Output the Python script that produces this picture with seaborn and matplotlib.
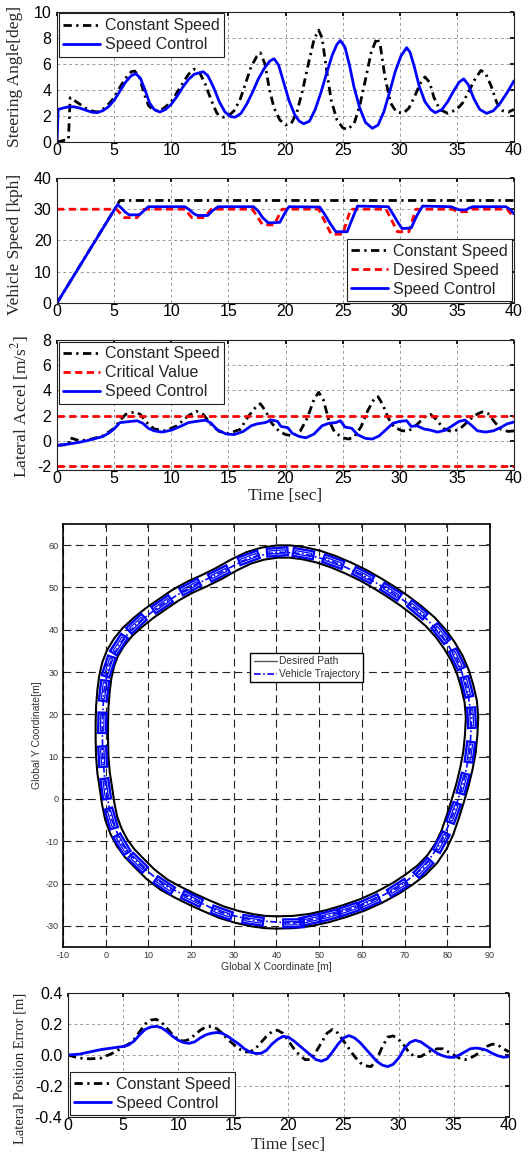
import numpy as np
import matplotlib
matplotlib.use('Agg')
import matplotlib.pyplot as plt
from matplotlib.patches import Rectangle
from matplotlib.lines import Line2D
import seaborn as sns

# ---- steering angle [deg] ----
steer_t_const = [0, 1.0, 1.15, 1.5, 2.0, 2.5, 3.0, 3.5, 4.0, 4.5, 5.0, 5.5, 6.0, 6.5, 6.8, 7.2, 7.6, 8.0, 8.5, 9.0,
                 9.5, 10.0, 10.5, 11.0, 11.5, 12.0, 12.5, 13.0, 13.5, 14.0, 14.5, 15.0, 15.5, 16.0, 16.5, 17.0, 17.5,
                 17.8, 18.2, 18.6, 19.0, 19.5, 20.0, 20.5, 21.0, 21.5, 22.0, 22.5, 22.9, 23.2, 23.6, 24.0, 24.5, 25.0,
                 25.4, 26.0, 26.5, 27.0, 27.5, 28.0, 28.3, 28.7, 29.2, 29.7, 30.3, 30.8, 31.3, 31.8, 32.2, 32.6, 33.0,
                 33.5, 34.2, 35.0, 35.5, 36.0, 36.5, 37.1, 37.5, 38.0, 38.5, 39.0, 39.5, 40.0]
steer_const = [0, 0.2, 3.4, 3.2, 2.9, 2.6, 2.4, 2.3, 2.5, 2.9, 3.4, 4.2, 4.9, 5.4, 5.45, 5.0, 3.8, 2.8, 2.4, 2.4,
               2.7, 3.1, 3.8, 4.5, 5.2, 5.6, 5.3, 4.4, 3.2, 2.2, 1.9, 2.0, 2.4, 3.2, 4.5, 5.8, 6.6, 6.85, 6.0, 4.0,
               2.6, 1.7, 1.3, 1.4, 2.3, 4.0, 6.0, 7.9, 8.6, 8.0, 5.5, 3.2, 1.7, 1.1, 0.95, 1.4, 2.8, 4.8, 6.9, 8.0,
               7.4, 5.0, 3.0, 2.3, 2.2, 2.6, 3.5, 4.5, 5.0, 4.6, 3.4, 2.5, 2.2, 2.5, 3.0, 3.8, 4.7, 5.5, 5.3, 4.3,
               3.0, 2.4, 2.3, 2.5]
steer_t_ctrl = [0, 0.1, 0.5, 1.0, 1.5, 2.0, 2.5, 3.0, 3.5, 4.0, 4.5, 5.0, 5.5, 6.0, 6.5, 6.9, 7.3, 7.7, 8.1, 8.5,
                9.0, 9.5, 10.0, 10.5, 11.0, 11.5, 12.0, 12.8, 13.2, 13.7, 14.2, 14.7, 15.2, 15.6, 16.1, 16.6, 17.1,
                17.6, 18.1, 18.6, 19.0, 19.4, 19.8, 20.3, 20.8, 21.2, 21.6, 22.1, 22.6, 23.1, 23.6, 24.1, 24.5, 24.8,
                25.2, 25.6, 26.0, 26.5, 27.0, 27.6, 28.1, 28.6, 29.1, 29.6, 30.1, 30.6, 30.9, 31.3, 31.7, 32.2, 32.7,
                33.1, 33.7, 34.2, 34.7, 35.2, 35.6, 36.0, 36.5, 37.0, 37.6, 38.2, 38.8, 39.4, 40.0]
steer_ctrl = [0, 2.5, 2.6, 2.7, 2.7, 2.6, 2.45, 2.3, 2.25, 2.4, 2.7, 3.2, 3.9, 4.6, 5.1, 5.25, 4.9, 4.0, 3.0, 2.5,
              2.3, 2.5, 2.9, 3.5, 4.2, 4.8, 5.2, 5.4, 5.1, 4.2, 3.1, 2.3, 1.95, 1.9, 2.2, 2.9, 3.8, 4.8, 5.6, 6.2,
              6.4, 5.9, 4.7, 3.2, 2.1, 1.6, 1.4, 1.6, 2.5, 3.8, 5.3, 6.7, 7.5, 7.8, 7.3, 5.9, 4.2, 2.6, 1.5, 1.05,
              1.3, 2.3, 3.8, 5.4, 6.6, 7.25, 6.9, 5.7, 4.3, 3.1, 2.5, 2.25, 2.5, 3.1, 3.9, 4.6, 4.85, 4.4, 3.3, 2.5,
              2.2, 2.4, 3.0, 3.8, 4.7]

# ---- vehicle speed [kph] ----
speed_t_const = [0, 5.5, 40]
speed_const = [0, 32.8, 32.8]
speed_t_des = [0, 5.2, 5.9, 7.0, 7.6, 11.2, 11.8, 12.9, 13.5, 17.1, 18.0, 19.0, 19.7, 22.9, 24.0, 25.0, 25.7,
               28.8, 29.8, 30.8, 31.4, 34.6, 35.1, 35.9, 36.3, 39.4, 40]
speed_des = [30, 30, 27.3, 27.3, 30, 30, 27.3, 27.3, 30, 30, 25.0, 25.0, 30, 30, 22.0, 22.0, 30,
             30, 22.8, 22.8, 30, 30, 29.2, 29.2, 30, 30, 27.3]
speed_t_ctrl = [0, 5.3, 5.6, 6.0, 6.3, 7.2, 7.6, 8.0, 11.2, 11.6, 12.0, 12.3, 13.2, 13.6, 14.1, 17.2, 17.6, 18.0,
                18.5, 19.5, 19.9, 20.3, 23.0, 23.4, 23.9, 24.4, 25.4, 25.8, 26.3, 29.0, 29.4, 29.8, 30.2, 31.0,
                31.5, 32.0, 34.5, 34.9, 35.2, 35.8, 36.1, 36.4, 39.3, 39.7, 40]
speed_ctrl = [0, 31.5, 30.5, 29.0, 28.2, 28.2, 29.5, 30.8, 30.8, 29.8, 28.5, 28.0, 28.0, 29.5, 30.8, 30.8, 29.5, 27.3,
              25.6, 25.8, 28.5, 30.8, 30.7, 28.5, 25.5, 22.8, 22.8, 26.5, 31.0, 30.8, 28.5, 26.0, 23.8, 24.0,
              28.0, 31.0, 30.8, 30.2, 29.8, 29.8, 30.4, 30.8, 30.8, 29.8, 28.5]

# ---- lateral acceleration [m/s^2] ----
critical_accel = 2.0
acc_t_const = [0, 1.0, 1.1, 1.5, 2, 3, 4, 5, 5.5, 6, 6.8, 7.3, 7.8, 8.5, 9.5, 10.5, 11.5, 12.2, 12.8, 13.5,
               14.2, 15, 16, 16.8, 17.5, 17.8, 18.3, 18.8, 19.4, 20, 20.7, 21.3, 21.9, 22.5, 22.9, 23.3, 23.8, 24.3,
               25, 25.5, 26, 26.6, 27.2, 27.8, 28.1, 28.5, 29, 29.5, 30.2, 30.8, 31.5, 32.2, 32.7, 33.2, 33.8, 34.5,
               35.2, 35.8, 36.5, 37.2, 37.7, 38.3, 38.9, 39.5, 40]
acc_const = [-0.35, -0.3, 0.25, 0.15, 0.0, 0.15, 0.4, 1.0, 1.6, 2.1, 2.3, 2.1, 1.5, 0.95, 0.8, 1.2, 2.0, 2.35, 2.1, 1.3,
             0.75, 0.6, 0.9, 2.0, 2.8, 2.95, 2.3, 1.4, 0.8, 0.5, 0.4, 0.8, 1.8, 3.3, 3.85, 3.3, 1.6, 0.7,
             0.25, 0.15, 0.3, 1.1, 2.4, 3.4, 3.5, 2.9, 1.8, 1.1, 0.8, 0.8, 1.3, 1.9, 2.1, 1.7, 1.0, 0.75,
             0.9, 1.4, 2.0, 2.3, 2.2, 1.5, 0.9, 0.75, 0.8]
acc_t_ctrl = [0, 1, 2, 3, 4, 4.5, 5, 5.5, 6, 6.5, 7, 7.5, 8, 8.5, 9.2, 10, 10.8, 11.5, 12.2, 13, 13.5, 14, 14.8,
              15.5, 16.3, 17, 17.5, 18.2, 18.8, 19.3, 19.6, 20.2, 20.6, 21.2, 21.8, 22.5, 23.2, 23.8, 24.4, 24.8,
              25.2, 25.8, 26.3, 27, 27.6, 28.2, 28.8, 29.4, 30, 30.6, 31, 31.5, 32.1, 32.7, 33.3, 34, 34.6, 35.2,
              35.7, 36.2, 36.8, 37.5, 38.2, 38.8, 39.4, 40]
acc_ctrl = [-0.35, -0.25, -0.1, 0.1, 0.35, 0.6, 0.95, 1.45, 1.5, 1.55, 1.6, 1.4, 1.0, 0.8, 0.7, 0.85, 1.15, 1.45,
            1.55, 1.65, 1.4, 0.9, 0.55, 0.5, 0.75, 1.2, 1.35, 1.45, 1.65, 1.55, 1.15, 1.05, 0.6, 0.35, 0.25, 0.55,
            1.2, 1.4, 1.45, 1.6, 1.1, 1.0, 0.5, 0.2, 0.15, 0.4, 0.9, 1.4, 1.55, 1.6, 1.15, 1.2, 0.95, 0.85, 0.7,
            0.85, 1.2, 1.55, 1.65, 1.3, 0.8, 0.7, 0.8, 1.05, 1.35, 1.5]

# ---- desired path centre line and vehicle positions [m] ----
path_x = [40, 44, 48, 52, 56, 60, 64, 68, 71, 74, 76.5, 78.5, 80, 81.3, 82.5, 83.6, 84.5, 85.2, 85.6, 85.8,
          85.5, 84.7, 83.7, 82.3, 80.5, 78.5, 76.0, 73.0, 70.0, 66.8, 63.6, 60.3, 56.8, 53.3, 49.8, 46.3, 43.2,
          40.2, 36.8, 33.5, 30.0, 26.5, 23.1, 19.8, 16.4, 13.2, 10.2, 7.5, 5.1, 3.1, 1.6, 0.6, -0.1, -0.5, -0.8,
          -0.9, -0.9, -0.8, -0.5, 0.1, 0.6, 1.3, 2.4, 3.8, 5.6, 7.7, 10.5, 13.7, 17.0, 20.2, 23.7, 27.2, 30.8,
          34.5, 37.3]
path_y = [-29.2, -29.1, -28.6, -27.7, -26.5, -25.1, -23.3, -21.1, -19.1, -16.8, -14.2, -11.2, -8.0, -4.2, -0.3,
          3.5, 7.3, 11.1, 15.2, 19.3, 23.0, 26.5, 29.9, 33.2, 36.3, 39.1, 41.9, 44.5, 46.8, 49.0, 51.0, 52.9,
          54.6, 56.1, 57.3, 58.1, 58.5, 58.5, 58.0, 57.0, 55.3, 53.3, 51.6, 50.1, 48.2, 46.0, 43.9, 41.7, 39.5,
          37.0, 34.5, 31.9, 28.8, 25.6, 21.8, 18.0, 14.0, 10.0, 6.2, 2.3, -1.2, -4.6, -7.6, -10.3, -12.8, -15.0,
          -17.8, -20.3, -22.1, -23.7, -25.3, -26.8, -27.9, -28.7, -29.1]
road_half_width = 1.45
veh_x = [44.0, 47.9, 52.5, 56.8, 61.8, 68.4, 74.4, 78.6, 81.5, 83.7, 85.3, 85.7, 84.6, 82.3, 78.5, 73.0, 66.8,
         60.3, 53.3, 46.3, 40.2, 33.5, 26.5, 19.8, 13.2, 7.2, 3.1, 0.7, -0.4, -0.8, -0.7, 0.0, 1.3, 3.8, 7.5,
         13.7, 20.2, 27.2, 34.5]
veh_y = [-29.4, -28.6, -27.5, -26.2, -24.4, -21.0, -16.3, -10.2, -3.3, 3.6, 11.1, 19.2, 26.5, 33.0, 39.1, 44.7,
         49.0, 52.9, 56.1, 58.0, 58.4, 57.0, 53.3, 50.1, 46.0, 41.4, 36.5, 31.3, 25.6, 18.0, 10.0, 2.4, -4.6,
         -10.7, -15.1, -20.4, -23.6, -26.9, -28.7]
veh_length, veh_width = 4.8, 1.85

# ---- lateral position error [m] ----
err_t = [0, 1, 2, 3, 4, 5] + [5.5 + 0.5 * i for i in range(70)]
err_const = [0.0, -0.02, -0.025, -0.02, 0.01, 0.05,
             0.07, 0.1, 0.15, 0.2, 0.225, 0.23, 0.21, 0.17, 0.13, 0.1,
             0.09, 0.1, 0.13, 0.16, 0.18, 0.185, 0.17, 0.14, 0.1, 0.07,
             0.04, 0.02, 0.02, 0.04, 0.08, 0.12, 0.15, 0.16, 0.14, 0.09,
             0.04, 0.0, -0.03, -0.03, 0.02, 0.08, 0.14, 0.165, 0.14, 0.09,
             0.04, -0.01, -0.05, -0.07, -0.075, -0.03, 0.05, 0.115, 0.123, 0.1,
             0.06, 0.01, -0.01, -0.01, 0.01, 0.03, 0.04, 0.04, 0.02, 0.0,
             -0.02, -0.03, -0.02, 0.0, 0.03, 0.055, 0.07, 0.065, 0.04, 0.02]
err_ctrl = [0.0, 0.005, 0.02, 0.035, 0.045, 0.055,
            0.065, 0.09, 0.13, 0.165, 0.18, 0.185, 0.175, 0.15, 0.12, 0.095,
            0.08, 0.075, 0.085, 0.11, 0.13, 0.14, 0.145, 0.14, 0.12, 0.095,
            0.07, 0.04, 0.02, 0.01, 0.01, 0.03, 0.07, 0.1, 0.12, 0.115,
            0.09, 0.06, 0.03, 0.0, -0.03, -0.04, -0.025, 0.02, 0.07, 0.11,
            0.125, 0.11, 0.08, 0.04, 0.0, -0.04, -0.065, -0.075, -0.06, -0.02,
            0.04, 0.08, 0.095, 0.085, 0.06, 0.035, 0.01, -0.005, -0.015, -0.015,
            0.0, 0.02, 0.04, 0.045, 0.04, 0.03, 0.01, -0.005, -0.015, -0.01]

sns.set_theme(style='white')
plt.rcParams['font.family'] = ['Liberation Sans', 'DejaVu Sans']
plt.rcParams['mathtext.fontset'] = 'stix'
plt.rcParams['axes.unicode_minus'] = False
SERIF = ['Liberation Serif', 'DejaVu Serif']

BLUE = '#0000ff'
RED = '#ff0000'
DASHDOT = (0, (3, 1.6, 0.8, 1.6))
DASHED = (0, (2.6, 1.6))


def line(ax, x, y, **kw):
    sns.lineplot(x=x, y=y, ax=ax, sort=False, estimator=None, legend=False, **kw)


def style_time_axis(ax, ylim, yticks, ylabel, ylab_x, ylab_y=0.5, ylab_size=12.5):
    ax.set_xlim(0, 40)
    ax.set_ylim(*ylim)
    ax.set_xticks(range(0, 41, 5))
    ax.set_yticks(yticks)
    ax.grid(True, color='#9a9a9a', linestyle=(0, (3, 3)), lw=0.7)
    ax.set_axisbelow(True)
    ax.tick_params(direction='in', length=3, top=True, right=True, labelsize=11.5,
                   colors='black', pad=4)
    ax.tick_params(axis='x', pad=1)
    for s in ax.spines.values():
        s.set_color('#222222')
        s.set_linewidth(0.8)
    ax.set_ylabel(ylabel, family=SERIF, fontsize=ylab_size, va='center')
    ax.yaxis.set_label_coords(ylab_x, ylab_y)


def time_legend(ax, loc):
    leg = ax.legend(loc=loc, borderaxespad=0.1, fontsize=11.5, frameon=True, fancybox=False,
                    edgecolor='#222222', framealpha=1, handlelength=2.3, handletextpad=0.3,
                    labelspacing=0.25, borderpad=0.3)
    leg.get_frame().set_linewidth(0.8)


fig = plt.figure(figsize=(5.28, 11.55), dpi=100)

# steering angle
ax1 = fig.add_axes([0.108, 0.8771, 0.8655, 0.1126])
line(ax1, steer_t_const, steer_const, color='black', lw=2, linestyle=DASHDOT, label='Constant Speed')
line(ax1, steer_t_ctrl, steer_ctrl, color=BLUE, lw=2, label='Speed Control')
style_time_axis(ax1, (0, 10), range(0, 11, 2), 'Steering Angle[deg]', -0.092)
time_legend(ax1, 'upper left')

# vehicle speed
ax2 = fig.add_axes([0.108, 0.7377, 0.8655, 0.1082])
line(ax2, speed_t_const, speed_const, color='black', lw=2, linestyle=DASHDOT, label='Constant Speed')
line(ax2, speed_t_des, speed_des, color=RED, lw=2, linestyle=DASHED, label='Desired Speed')
line(ax2, speed_t_ctrl, speed_ctrl, color=BLUE, lw=2, label='Speed Control')
style_time_axis(ax2, (0, 40), range(0, 41, 10), 'Vehicle Speed [kph]', -0.092, 0.47)
time_legend(ax2, 'lower right')

# lateral acceleration
ax3 = fig.add_axes([0.108, 0.5931, 0.8655, 0.1126])
line(ax3, acc_t_const, acc_const, color='black', lw=2, linestyle=DASHDOT, label='Constant Speed')
ax3.axhline(critical_accel, color=RED, lw=2, linestyle=DASHED, label='Critical Value')
ax3.axhline(-critical_accel, color=RED, lw=2, linestyle=DASHED)
line(ax3, acc_t_ctrl, acc_ctrl, color=BLUE, lw=2, label='Speed Control')
style_time_axis(ax3, (-2.3, 8), range(-2, 9, 2), 'Lateral Accel [m/s$^2$]', -0.08, 0.49)
time_legend(ax3, 'upper left')
ax3.set_xlabel('Time [sec]', family=SERIF, fontsize=12.5, va='top')
ax3.xaxis.set_label_coords(0.5, -0.14)

# global trajectory
ax4 = fig.add_axes([0.1193, 0.1801, 0.8087, 0.3662])
px = np.array(path_x + path_x[:1])
py = np.array(path_y + path_y[:1])
dx = np.roll(px[:-1], -1) - np.roll(px[:-1], 1)
dy = np.roll(py[:-1], -1) - np.roll(py[:-1], 1)
norm = np.hypot(dx, dy)
nx, ny = dy / norm, -dx / norm
nx, ny = np.append(nx, nx[0]), np.append(ny, ny[0])
line(ax4, px + road_half_width * nx, py + road_half_width * ny, color='black', lw=1.5)
line(ax4, px - road_half_width * nx, py - road_half_width * ny, color='black', lw=1.5)
vx = np.array(veh_x)
vy = np.array(veh_y)
line(ax4, np.append(vx, vx[0]), np.append(vy, vy[0]), color=BLUE, lw=1.2, linestyle=(0, (4, 1.5, 1, 1.5)))
heading = np.degrees(np.arctan2(np.roll(vy, -1) - np.roll(vy, 1), np.roll(vx, -1) - np.roll(vx, 1)))
for cx, cy, ang in zip(vx, vy, heading):
    ax4.add_patch(Rectangle((cx - veh_length / 2, cy - veh_width / 2), veh_length, veh_width, angle=ang,
                            rotation_point='center', fill=False, ec=BLUE, lw=1.7, zorder=4))
    ax4.add_patch(Rectangle((cx - 1.9, cy - 0.38), 3.8, 0.76, angle=ang,
                            rotation_point='center', fill=False, ec=BLUE, lw=0.9, zorder=4))
ax4.set_xlim(-10, 90)
ax4.set_ylim(-35, 65)
ax4.set_xticks(range(-10, 91, 10))
ax4.set_yticks(range(-30, 61, 10))
ax4.grid(True, color='#222222', linestyle=(0, (7, 4)), lw=0.8)
ax4.set_axisbelow(True)
ax4.tick_params(direction='in', length=3, top=True, right=True, labelsize=6.5, colors='#333333', pad=3)
for s in ax4.spines.values():
    s.set_color('black')
    s.set_linewidth(1.2)
ax4.set_xlabel('Global X Coordinate [m]', fontsize=7.5, color='#333333', va='center')
ax4.xaxis.set_label_coords(0.5, -0.047)
ax4.set_ylabel('Global Y Coordinate[m]', fontsize=7.5, color='#333333', va='center')
ax4.yaxis.set_label_coords(-0.061, 0.5)
handles = [Line2D([], [], color='#555555', lw=1.0),
           Line2D([], [], color=BLUE, lw=1.2, linestyle=(0, (4, 1.5, 1, 1.5)))]
leg4 = ax4.legend(handles, ['Desired Path', 'Vehicle Trajectory'], loc='center', bbox_to_anchor=(0.571, 0.66),
                  fontsize=7.4, frameon=True, fancybox=False, edgecolor='black', framealpha=1,
                  handlelength=2.3, handletextpad=0.2, labelspacing=0.3, borderpad=0.3)
leg4.get_frame().set_linewidth(1.0)
for t in leg4.get_texts():
    t.set_color('#333333')

# lateral position error
ax5 = fig.add_axes([0.1288, 0.0329, 0.835, 0.1074])
line(ax5, err_t, err_const, color='black', lw=2, linestyle=DASHDOT, label='Constant Speed')
line(ax5, err_t, err_ctrl, color=BLUE, lw=2, label='Speed Control')
style_time_axis(ax5, (-0.4, 0.4), [-0.4, -0.2, 0.0, 0.2, 0.4], 'Lateral Position Error [m]', -0.11, 0.395,
                ylab_size=10.5)
ax5.yaxis.set_major_formatter(matplotlib.ticker.FormatStrFormatter('%.1f'))
time_legend(ax5, 'lower left')
ax5.set_xlabel('Time [sec]', family=SERIF, fontsize=12.5, va='top')
ax5.xaxis.set_label_coords(0.5, -0.165)

fig.savefig('out.png', dpi=100)
